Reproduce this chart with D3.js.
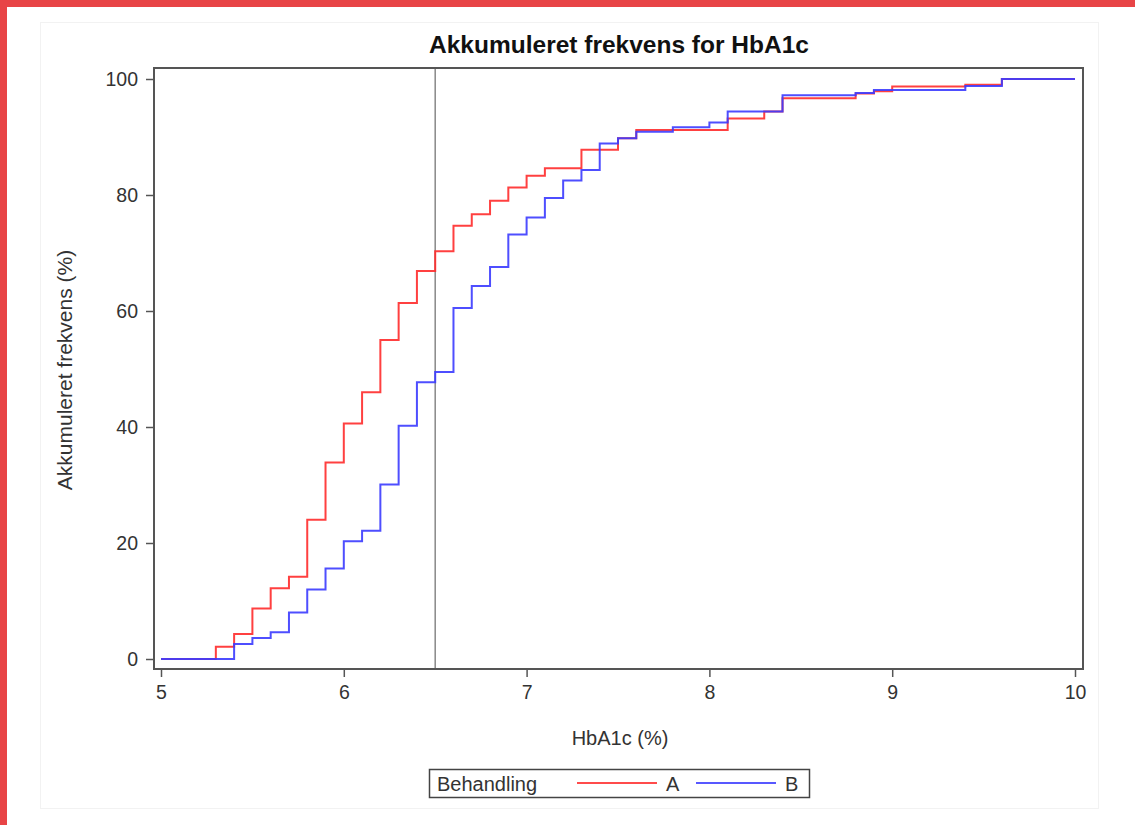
<!DOCTYPE html>
<html>
<head>
<meta charset="utf-8">
<script src="https://cdn.jsdelivr.net/npm/d3@7"></script>
<style>
  html, body { margin: 0; padding: 0; background: #fff; }
  svg { display: block; }
</style>
</head>
<body>
<script>
// data (cumulative % at each HbA1c step)
const xTicks = [5, 6, 7, 8, 9, 10];
const yTicks = [0, 20, 40, 60, 80, 100];
const cutoff = 6.5;

const aX = [5.0, 5.3, 5.4, 5.5, 5.6, 5.7, 5.8, 5.9, 6.0, 6.1, 6.2, 6.3, 6.4, 6.5, 6.6, 6.7, 6.8, 6.9, 7.0, 7.1,
            7.3, 7.5, 7.6, 8.1, 8.3, 8.4, 8.8, 8.9, 9.0, 9.4, 9.6, 10.0];
const aY = [0, 2.1, 4.3, 8.7, 12.2, 14.2, 24.0, 33.9, 40.6, 46.0, 55.0, 61.4, 66.9, 70.3, 74.7, 76.7, 79.0, 81.3, 83.3, 84.6,
            87.8, 89.8, 91.2, 93.2, 94.4, 96.7, 97.5, 97.9, 98.7, 99.0, 100, 100];

const bX = [5.0, 5.4, 5.5, 5.6, 5.7, 5.8, 5.9, 6.0, 6.1, 6.2, 6.3, 6.4, 6.5, 6.6, 6.7, 6.8, 6.9, 7.0, 7.1, 7.2,
            7.3, 7.4, 7.5, 7.6, 7.8, 8.0, 8.1, 8.4, 8.8, 8.9, 9.4, 9.6, 10.0];
const bY = [0, 2.6, 3.6, 4.6, 8.0, 12.0, 15.6, 20.3, 22.1, 30.1, 40.2, 47.7, 49.5, 60.5, 64.3, 67.6, 73.2, 76.1, 79.5, 82.5,
            84.3, 88.9, 89.8, 90.9, 91.7, 92.5, 94.4, 97.2, 97.6, 98.1, 98.8, 100, 100];

const groups = ["A", "B"];
const colors = {A: "#ff2b2b", B: "#3b3bff"};

var width = 1135, height = 825;
var font = "'Liberation Sans', Arial, sans-serif";

var svg = d3.select("body").append("svg")
    .attr("width", width)
    .attr("height", height);

// red page frame
svg.append("rect").attr("x", 0).attr("y", 0).attr("width", width).attr("height", 7).attr("fill", "#e84446");
svg.append("rect").attr("x", 0).attr("y", 0).attr("width", 7).attr("height", height).attr("fill", "#e84446");

// faint inner border
svg.append("rect")
    .attr("x", 40.5).attr("y", 22.5).attr("width", 1058).attr("height", 786)
    .attr("fill", "none").attr("stroke", "#f2f2f2");

var x = d3.scaleLinear().domain([5, 10]).range([161, 1075]);
var y = d3.scaleLinear().domain([0, 100]).range([659, 79]);

// x axis
var gx = svg.append("g")
    .attr("transform", "translate(0,669)")
    .call(d3.axisBottom(x).tickValues(xTicks).tickSize(8).tickPadding(8).tickFormat(d3.format("d")));
gx.select(".domain").remove();

// y axis
var gy = svg.append("g")
    .attr("transform", "translate(154,0)")
    .call(d3.axisLeft(y).tickValues(yTicks).tickSize(8).tickPadding(8));
gy.select(".domain").remove();

[gx, gy].forEach(function(g){
    g.selectAll("line").attr("stroke", "#555").attr("stroke-width", 1.5);
    g.selectAll("text").attr("font-family", font).attr("font-size", 19.5).attr("fill", "#333");
});
gy.selectAll("text").attr("dy", "0.35em");

// cutoff line
svg.append("line")
    .attr("x1", x(cutoff)).attr("x2", x(cutoff))
    .attr("y1", 68).attr("y2", 669)
    .attr("stroke", "#888").attr("stroke-width", 1.5);

// step curves
var line = d3.line()
    .curve(d3.curveStepAfter)
    .x(d => x(d[0]))
    .y(d => y(d[1]));

var series = [
    {name: "A", pts: d3.zip(aX, aY)},
    {name: "B", pts: d3.zip(bX, bY)}
];

svg.append("g")
    .attr("fill", "none")
  .selectAll("path")
  .data(series)
  .join("path")
    .attr("stroke", d => colors[d.name])
    .attr("stroke-width", 2)
    .attr("stroke-opacity", 0.9)
    .attr("d", d => line(d.pts));

// plot frame
svg.append("rect")
    .attr("x", 154).attr("y", 68).attr("width", 929).attr("height", 601)
    .attr("fill", "none").attr("stroke", "#555").attr("stroke-width", 2);

// title and axis labels
svg.append("text")
    .attr("x", 619).attr("y", 53)
    .attr("text-anchor", "middle")
    .attr("font-family", font).attr("font-size", 24.5).attr("font-weight", "bold")
    .attr("fill", "#111")
    .text("Akkumuleret frekvens for HbA1c");

svg.append("text")
    .attr("x", 620).attr("y", 745)
    .attr("text-anchor", "middle")
    .attr("font-family", font).attr("font-size", 20)
    .attr("fill", "#333")
    .text("HbA1c (%)");

svg.append("text")
    .attr("transform", "translate(72,370) rotate(-90)")
    .attr("text-anchor", "middle")
    .attr("font-family", font).attr("font-size", 21)
    .attr("fill", "#333")
    .text("Akkumuleret frekvens (%)");

// legend
var legend = svg.append("g");
legend.append("rect")
    .attr("x", 429.5).attr("y", 769.5).attr("width", 380).attr("height", 28)
    .attr("fill", "none").attr("stroke", "#444").attr("stroke-width", 1.5);
legend.append("text")
    .attr("x", 437).attr("y", 791)
    .attr("font-family", font).attr("font-size", 20).attr("fill", "#333")
    .text("Behandling");

var legendX = {A: 577, B: 696};
groups.forEach(function(g){
    legend.append("line")
        .attr("x1", legendX[g]).attr("x2", legendX[g] + 80)
        .attr("y1", 783).attr("y2", 783)
        .attr("stroke", colors[g]).attr("stroke-width", 2).attr("stroke-opacity", 0.85);
    legend.append("text")
        .attr("x", legendX[g] + 89).attr("y", 791)
        .attr("font-family", font).attr("font-size", 20).attr("fill", "#333")
        .text(g);
});
</script>
</body>
</html>
